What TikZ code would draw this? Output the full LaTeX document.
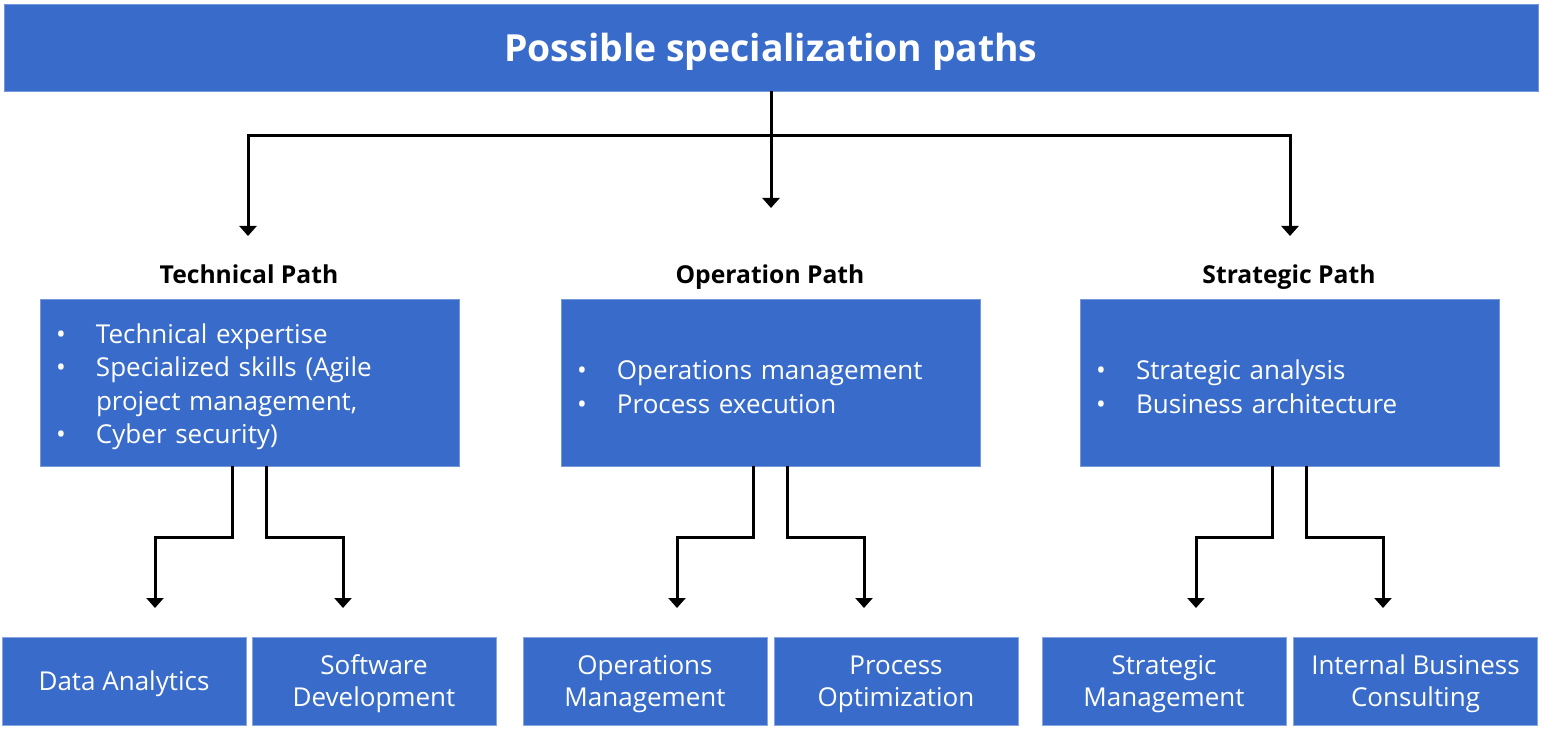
\documentclass[tikz,border=0pt]{standalone}
\usepackage{fontspec}
\setmainfont{Open Sans}
\usepackage{xcolor}
\usetikzlibrary{arrows.meta,positioning}
\definecolor{pathblue}{HTML}{396CCA}
\newcommand{\bul}{\makebox[30pt][l]{\textbullet}}

\tikzset{
  titlebox/.style={fill=pathblue,draw=pathblue!70!white,line width=0.5pt,text=white,
    minimum width=1150.5pt,minimum height=65.25pt,inner sep=0pt,text depth=0pt,
    font=\fontsize{28}{32}\selectfont\bfseries},
  pathhead/.style={inner sep=0pt,text height=14pt,text depth=0pt,
    font=\fontsize{18.5}{22}\selectfont\bfseries},
  pathbox/.style={fill=pathblue,draw=pathblue!70!white,line width=0.5pt,text=white,
    minimum width=314.25pt,minimum height=125.25pt,text width=290.25pt,
    inner xsep=12pt,align=left,font=\fontsize{19.5}{25}\selectfont,
    execute at begin node={\rule{0pt}{21pt}}},
  jobbox/.style={fill=pathblue,draw=pathblue!60!white,line width=0.75pt,text=white,
    minimum width=183pt,minimum height=66pt,align=center,inner sep=0pt,text depth=0pt,
    font=\fontsize{19.5}{24}\selectfont},
  conn/.style={line width=2.25pt,-{Triangle[width=12.75pt,length=7.5pt]}},
}

\begin{document}
\begin{tikzpicture}[x=0.75pt,y=-0.75pt]
        \useasboundingbox (0,0) rectangle (1542,730);
        \path
        % top
        (771,47.5) node[titlebox](title) {Possible specialization paths}
        (771,136) coordinate(hub)
        (771,208) coordinate(tipO)
        (248,236) coordinate(tipT)
        (1290,236) coordinate(tipS)

        % left
        (249,274) node[pathhead](techhead) {Technical Path}
        (249.5,382.5) node[pathbox](tech) {\bul Technical expertise\\
          \bul Specialized skills (Agile\\
          \hspace*{30pt}project management,\\
          \bul Cyber security)}
        (155,608) coordinate(tipDA)
        (343,608) coordinate(tipSD)
        (124,681) node[jobbox](da) {Data Analytics}
        (374,681) node[jobbox](sd) {Software\\Development}

        % middle
        (770,274) node[pathhead](ophead) {Operation Path}
        (770.5,382.5) node[pathbox](oper) {\bul Operations management\\
          \bul Process execution}
        (677,608) coordinate(tipOM)
        (864,608) coordinate(tipPO)
        (645,681) node[jobbox](om) {Operations\\Management}
        (896,681) node[jobbox](po) {Process\\Optimization}

        % right
        (1289,274) node[pathhead](strathead) {Strategic Path}
        (1289.5,382.5) node[pathbox](strat) {\bul Strategic analysis\\
          \bul Business architecture}
        (1196,608) coordinate(tipSM)
        (1383,608) coordinate(tipIB)
        (1164,681) node[jobbox](sm) {Strategic\\Management}
        (1415.5,681) node[jobbox](ib) {Internal Business\\Consulting}
        ;

        \draw[conn] (title) -- (tipO);
        \draw[conn] (hub) -| (tipT);
        \draw[conn] (hub) -| (tipS);

        \draw[conn] ([xshift=-12.75pt]tech.south) -- ++(0,71) -| (tipDA);
        \draw[conn] ([xshift=12.75pt]tech.south) -- ++(0,71) -| (tipSD);
        \draw[conn] ([xshift=-12.75pt]oper.south) -- ++(0,71) -| (tipOM);
        \draw[conn] ([xshift=12.75pt]oper.south) -- ++(0,71) -| (tipPO);
        \draw[conn] ([xshift=-12.75pt]strat.south) -- ++(0,71) -| (tipSM);
        \draw[conn] ([xshift=12.75pt]strat.south) -- ++(0,71) -| (tipIB);
      \end{tikzpicture}
\end{document}
